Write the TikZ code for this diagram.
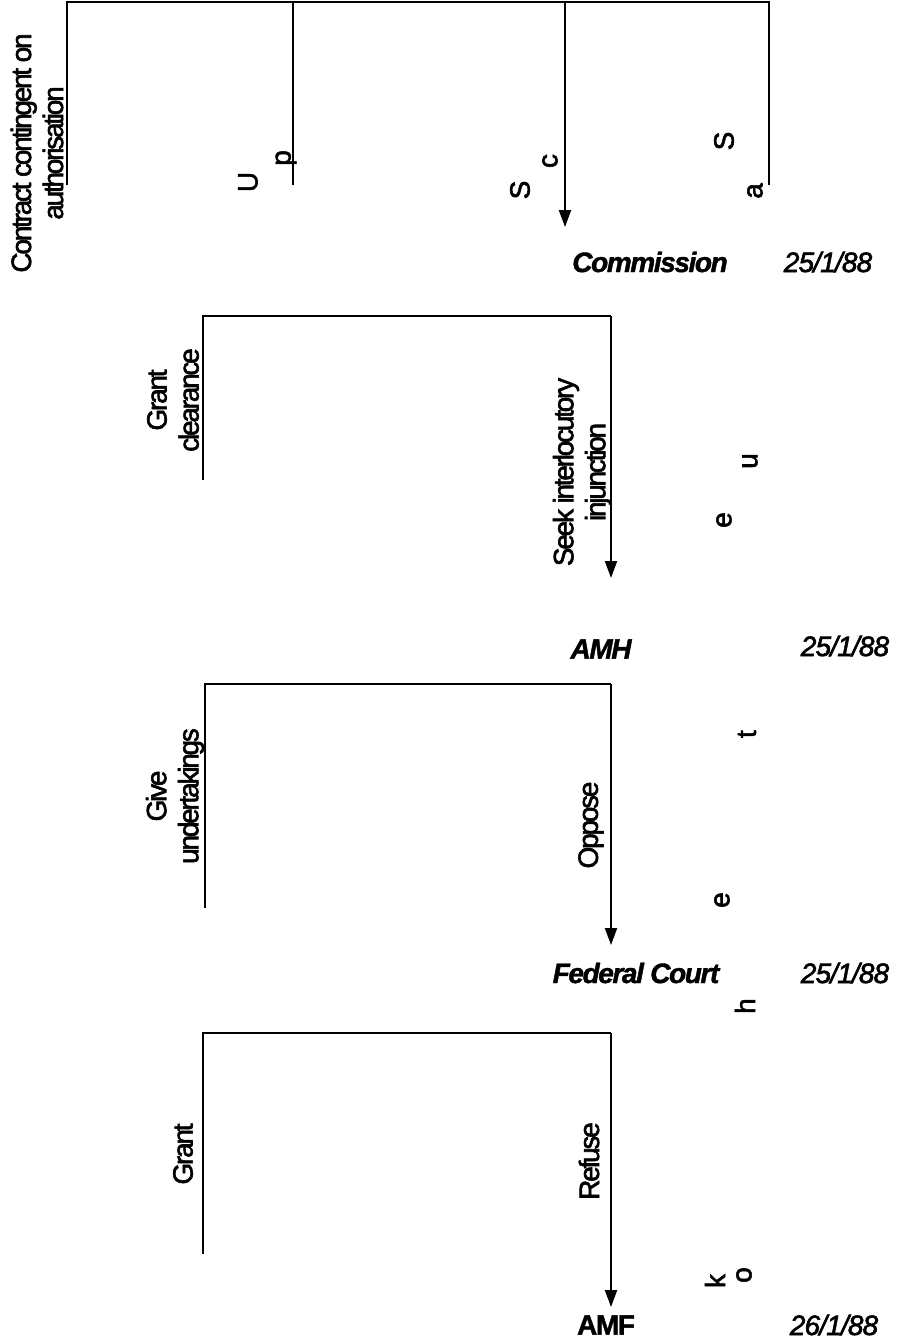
\documentclass[tikz,border=0pt]{standalone}
\usepackage{fontspec}
\setmainfont{Liberation Sans}
\usetikzlibrary{arrows.meta}

\begin{document}
\begin{tikzpicture}[
  x=1pt, y=-1pt,
  >={Triangle[length=17pt,width=12pt]},
  ln/.style={draw=black, line width=2pt},
  arr/.style={->, draw=black, line width=2pt},
  lbl/.style={rotate=90, align=center, inner sep=0pt,
              font=\fontsize{28}{32}\selectfont\addfontfeatures{LetterSpace=-8,FakeBold=2}},
  frag/.style={rotate=90, inner sep=0pt, font=\fontsize{28}{32}\selectfont\addfontfeatures{FakeBold=2}},
  who/.style={inner sep=0pt, font=\fontsize{28}{32}\selectfont\bfseries\itshape\addfontfeatures{LetterSpace=-5,FakeBold=1.5}},
  dte/.style={inner sep=0pt, font=\fontsize{28}{32}\selectfont\itshape\addfontfeatures{LetterSpace=-3,FakeBold=2}}
]
\useasboundingbox (0,0) rectangle (898,1344);

% actors and dates
\node[who] (comm) at (650,262) {Commission};
\node[dte] (d1) at (828,262) {25/1/88};
\node[who] (amh) at (601,649) {AMH};
\node[dte] (d2) at (845,646) {25/1/88};
\node[who] (fc) at (636,973) {Federal Court};
\node[dte] (d3) at (845,973) {25/1/88};
\node[who, font=\fontsize{28}{32}\selectfont\bfseries\addfontfeatures{LetterSpace=-5,FakeBold=1.5}] (amf) at (606,1325) {AMF};
\node[dte] (d4) at (834,1325) {26/1/88};

% branch ends
\coordinate (tl) at (67,2);    \coordinate (tr) at (769,2);
\coordinate (b1) at (67,185);  \coordinate (b2) at (293,185);
\coordinate (b3) at (769,185); \coordinate (s1) at (565,227);
\coordinate (k2) at (203,316); \coordinate (g2) at (203,480); \coordinate (s2) at (611,578);
\coordinate (k3) at (205,684); \coordinate (g3) at (205,908); \coordinate (s3) at (611,945);
\coordinate (k4) at (203,1033); \coordinate (g4) at (203,1254); \coordinate (s4) at (611,1307);

\draw[ln] (b1) |- (tr) -- (b3);
\draw[ln] (b2 |- tl) -- (b2);
\draw[arr] (s1 |- tl) -- (s1);
\draw[ln] (g2) -- (k2) -| (s2 |- k2);
\draw[arr] (s2 |- k2) -- (s2);
\draw[ln] (g3) -- (k3) -| (s3 |- k3);
\draw[arr] (s3 |- k3) -- (s3);
\draw[ln] (g4) -- (k4) -| (s4 |- k4);
\draw[arr] (s4 |- k4) -- (s4);

% move labels
\node[lbl] (contract) at (37,153) {Contract contingent on\\authorisation};
\node[lbl] (clear) at (173,400) {Grant\\clearance};
\node[lbl] (seek) at (582,472) {Seek interlocutory\\injunction};
\node[lbl] (give) at (175,796) {Give\\undertakings};
\node[lbl] (oppose) at (591,825) {Oppose};
\node[lbl] (grant) at (183,1154) {Grant};
\node[lbl] (refuse) at (589,1161) {Refuse};

% stray letters
\node[frag] (fU) at (248,182) {U};
\node[frag] (fp) at (286,158) {p};
\node[frag] (fS1) at (520,190) {S};
\node[frag] (fc) at (550,161) {c};
\node[frag] (fS2) at (724,141) {S};
\node[frag] (fa) at (755,191) {a};
\node[frag] (fu) at (750,461) {u};
\node[frag] (fe1) at (724,520) {e};
\node[frag] (ft) at (747,734) {t};
\node[frag] (fe2) at (722,900) {e};
\node[frag] (fh) at (745,1006) {h};
\node[frag] (fk) at (715,1281) {k};
\node[frag] (fo) at (744,1275) {o};
\end{tikzpicture}
\end{document}
